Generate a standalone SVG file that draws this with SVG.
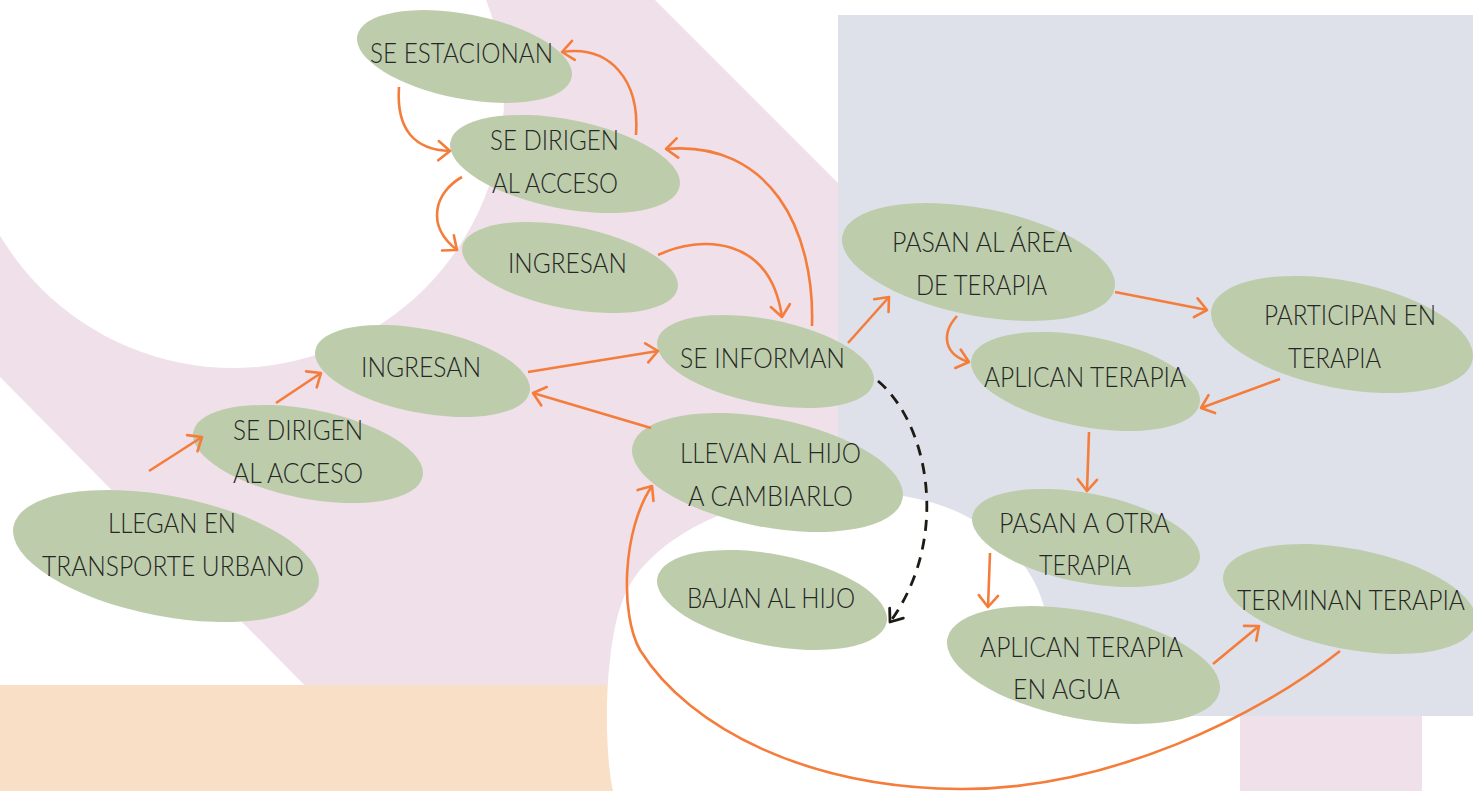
<svg xmlns="http://www.w3.org/2000/svg" width="1473" height="791" viewBox="0 0 1473 791">
<style>
.n ellipse{fill:#bdcdac}
text{font-family:Lato,"Liberation Sans",sans-serif;font-weight:300;font-size:27px;fill:#262626}
.c path{fill:none;stroke:#f47d3c;stroke-width:2.6;marker-end:url(#ah)}
.c path.d{stroke:#1c1c14;stroke-width:2.8;stroke-dasharray:11 8;marker-end:url(#ahd)}
</style>
<defs>
<marker id="ah" markerUnits="userSpaceOnUse" viewBox="-16 -12 20 24" refX="0" refY="0" markerWidth="20" markerHeight="24" orient="auto"><path d="M-11.5,-9.6 L0,0 L-11.5,9.6" fill="none" stroke="#f47d3c" stroke-width="2.6" stroke-linecap="round" stroke-linejoin="round"/></marker>
<marker id="ahd" markerUnits="userSpaceOnUse" viewBox="-16 -12 20 24" refX="0" refY="0" markerWidth="20" markerHeight="24" orient="auto"><path d="M-11,-8.5 L0,0 L-11,8.5" fill="none" stroke="#1c1c14" stroke-width="2.8" stroke-linecap="round" stroke-linejoin="round"/></marker>
</defs>
<g id="background">
<rect width="1473" height="791" fill="#ffffff"/>
<polygon points="0,0 655,0 1000,345 1000,791 409,791 0,377" fill="#f0e0ea"/>
<circle cx="233" cy="97" r="271" fill="#ffffff"/>
<rect x="838" y="15" width="635" height="701" fill="#dfe1ea"/>
<rect x="0" y="685" width="700" height="106" fill="#f9dfc6"/>
<path d="M613,791 C606,760 605,700 610,660 C614,625 620,595 640,570 C670,535 720,507 790,497 C850,488 910,490 960,513 C1005,535 1035,570 1045,610 C1055,650 1060,690 1062,716 L1240,716 L1240,791 Z" fill="#ffffff"/>
<rect x="1240" y="716" width="182" height="75" fill="#f0e0ea"/>
</g>
<g id="n1" class="n"><ellipse cx="464.5" cy="56.5" rx="109.2" ry="42.3" transform="rotate(11 464.5 56.5)"/><text x="370" y="63" textLength="183" lengthAdjust="spacingAndGlyphs">SE ESTACIONAN</text></g>
<g id="n2" class="n"><ellipse cx="565" cy="164" rx="116.8" ry="44.5" transform="rotate(11 565 164)"/><text x="490" y="150" textLength="129" lengthAdjust="spacingAndGlyphs">SE DIRIGEN</text><text x="492" y="193" textLength="126" lengthAdjust="spacingAndGlyphs">AL ACCESO</text></g>
<g id="n3" class="n"><ellipse cx="570" cy="267.5" rx="109.7" ry="41.2" transform="rotate(11 570 267.5)"/><text x="508" y="273" textLength="119" lengthAdjust="spacingAndGlyphs">INGRESAN</text></g>
<g id="n4" class="n"><ellipse cx="422.5" cy="371" rx="109.2" ry="41.8" transform="rotate(11 422.5 371)"/><text x="361" y="377" textLength="120" lengthAdjust="spacingAndGlyphs">INGRESAN</text></g>
<g id="n5" class="n"><ellipse cx="308" cy="454" rx="116.8" ry="44.5" transform="rotate(11 308 454)"/><text x="233" y="440" textLength="130" lengthAdjust="spacingAndGlyphs">SE DIRIGEN</text><text x="233" y="483" textLength="130" lengthAdjust="spacingAndGlyphs">AL ACCESO</text></g>
<g id="n6" class="n"><ellipse cx="166" cy="556" rx="155.4" ry="60.1" transform="rotate(11 166 556)"/><text x="108" y="533" textLength="128" lengthAdjust="spacingAndGlyphs">LLEGAN EN</text><text x="42" y="576" textLength="262" lengthAdjust="spacingAndGlyphs">TRANSPORTE URBANO</text></g>
<g id="n7" class="n"><ellipse cx="765.5" cy="361.5" rx="110.2" ry="42.2" transform="rotate(11 765.5 361.5)"/><text x="680" y="368" textLength="165" lengthAdjust="spacingAndGlyphs">SE INFORMAN</text></g>
<g id="n8" class="n"><ellipse cx="767.5" cy="472.5" rx="137.6" ry="54.4" transform="rotate(11 767.5 472.5)"/><text x="680" y="463" textLength="181" lengthAdjust="spacingAndGlyphs">LLEVAN AL HIJO</text><text x="688" y="506" textLength="165" lengthAdjust="spacingAndGlyphs">A CAMBIARLO</text></g>
<g id="n9" class="n"><ellipse cx="772" cy="600" rx="116.8" ry="45.6" transform="rotate(11 772 600)"/><text x="687" y="608" textLength="168" lengthAdjust="spacingAndGlyphs">BAJAN AL HIJO</text></g>
<g id="n10" class="n"><ellipse cx="978.5" cy="262" rx="138.7" ry="53.7" transform="rotate(11 978.5 262)"/><text x="892" y="252" textLength="180" lengthAdjust="spacingAndGlyphs">PASAN AL ÁREA</text><text x="916" y="295" textLength="131" lengthAdjust="spacingAndGlyphs">DE TERAPIA</text></g>
<g id="n11" class="n"><ellipse cx="1342" cy="334.5" rx="133" ry="53.7" transform="rotate(11 1342 334.5)"/><text x="1264" y="325" textLength="172" lengthAdjust="spacingAndGlyphs">PARTICIPAN EN</text><text x="1288" y="368" textLength="93" lengthAdjust="spacingAndGlyphs">TERAPIA</text></g>
<g id="n12" class="n"><ellipse cx="1085.5" cy="381.5" rx="116.3" ry="45.1" transform="rotate(11 1085.5 381.5)"/><text x="984" y="387" textLength="202" lengthAdjust="spacingAndGlyphs">APLICAN TERAPIA</text></g>
<g id="n13" class="n"><ellipse cx="1086" cy="538" rx="115.8" ry="44.6" transform="rotate(11 1086 538)"/><text x="999" y="533" textLength="171" lengthAdjust="spacingAndGlyphs">PASAN A OTRA</text><text x="1039" y="575" textLength="92" lengthAdjust="spacingAndGlyphs">TERAPIA</text></g>
<g id="n14" class="n"><ellipse cx="1083.5" cy="665" rx="138.7" ry="53.7" transform="rotate(11 1083.5 665)"/><text x="980" y="657" textLength="203" lengthAdjust="spacingAndGlyphs">APLICAN TERAPIA</text><text x="1013" y="699" textLength="107" lengthAdjust="spacingAndGlyphs">EN AGUA</text></g>
<g id="n15" class="n"><ellipse cx="1349.5" cy="599" rx="128.5" ry="50.2" transform="rotate(11 1349.5 599)"/><text x="1237" y="610" textLength="228" lengthAdjust="spacingAndGlyphs">TERMINAN TERAPIA</text></g>
<g id="connectors" class="c">
<path d="M149,471 L202,437"/>
<path d="M276,403 L321,373"/>
<path d="M528,372 L658,351"/>
<path d="M651,428 L533,393"/>
<path d="M399,87 C396,130 415,150 450,151"/>
<path d="M636,135 C640,80 610,45 562,52"/>
<path d="M812,326 C815,230 770,140 666,149"/>
<path d="M462,177 C435,192 425,225 457,250"/>
<path d="M658,255 C700,235 770,235 782,317"/>
<path d="M848,343 L889,297"/>
<path d="M1115,292 L1207,310"/>
<path d="M957,316 C940,335 945,355 969,362"/>
<path d="M1280,379 L1201,408"/>
<path d="M1089,432 L1087,491"/>
<path d="M990,553 L988,607"/>
<path d="M1213,664 L1259,626"/>
<path d="M1340,651 C1260,715 1110,790 960,789 C810,788 690,730 640,650 C620,615 622,530 652,486"/>
<path class="d" d="M878,381 C930,425 950,540 890,622"/>
</g>
</svg>
